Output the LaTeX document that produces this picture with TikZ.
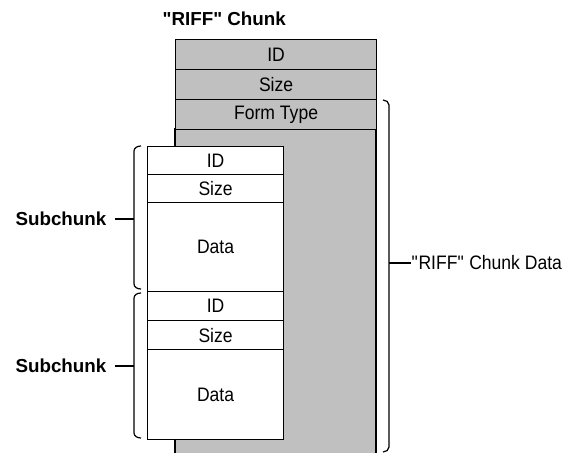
\documentclass[tikz,border=0pt]{standalone}
\usepackage{fontspec}
\setmainfont{Liberation Sans}
\newfontfamily\diafont[FakeStretch=0.9]{Liberation Sans}
\definecolor{chunkgray}{RGB}{192,192,192}
\begin{document}
\begin{tikzpicture}[x=1pt,y=-1pt,
  font=\diafont\fontsize{19.5}{20}\selectfont,
  line width=1.2pt,
  grayrow/.style={draw, fill=chunkgray, minimum width=201pt, inner sep=0pt, anchor=north west},
  whiterow/.style={draw, fill=white, minimum width=136pt, inner sep=0pt, anchor=north west},
  lbl/.style={font=\rmfamily\bfseries\fontsize{18.8}{20}\selectfont, inner sep=0pt},
  txt/.style={inner sep=0pt},
  bracestyle/.style={line width=1.2pt}]
\useasboundingbox (0,0) rectangle (582,453);

% title
\node[lbl, anchor=west] (title) at (162,19) {\textquotedbl RIFF\textquotedbl{} Chunk};

% gray chunk
\draw[fill=chunkgray] (175,453) -- (175,129) -- (376,129) -- (376,453);
\node[grayrow, minimum height=30pt] (gid) at (175,39) {ID};
\node[grayrow, minimum height=30pt] (gsize) at (175,69) {Size};
\node[grayrow, minimum height=30pt] (gform) at (175,99) {Form Type};

% subchunk 1
\node[whiterow, minimum height=28pt] (s1id) at (147,146) {ID};
\node[whiterow, minimum height=28pt] (s1size) at (147,174) {Size};
\node[whiterow, minimum height=89pt] (s1data) at (147,202) {Data};

% subchunk 2
\node[whiterow, minimum height=29pt] (s2id) at (147,291) {ID};
\node[whiterow, minimum height=29pt] (s2size) at (147,320) {Size};
\node[whiterow, minimum height=90pt] (s2data) at (147,349) {Data};

% left braces
\coordinate (b1t) at (141,146);
\coordinate (b1b) at (141,289);
\coordinate (b1m) at (134,219);
\draw[bracestyle] (b1t) to[out=180,in=90] (134,151) -- (134,284) to[out=-90,in=180] (b1b);
\node[lbl, anchor=east] (sub1) at (107,219) {Subchunk};
\draw ([xshift=8pt]sub1.east) -- (b1m);

\coordinate (b2t) at (141,293);
\coordinate (b2b) at (141,438);
\coordinate (b2m) at (134,366);
\draw[bracestyle] (b2t) to[out=180,in=90] (134,298) -- (134,433) to[out=-90,in=180] (b2b);
\node[lbl, anchor=east] (sub2) at (107,366) {Subchunk};
\draw ([xshift=8pt]sub2.east) -- (b2m);

% right brace
\coordinate (rbt) at (383,100);
\coordinate (rbb) at (383,452);
\coordinate (rbm) at (389,263);
\draw[bracestyle] (rbt) to[out=0,in=90] (389,105) -- (389,447) to[out=-90,in=0] (rbb);
\node[txt, anchor=west] (rcd) at (411,263) {\textquotedbl RIFF\textquotedbl{} Chunk Data};
\draw (rbm) -- (rcd.west);
\end{tikzpicture}
\end{document}
